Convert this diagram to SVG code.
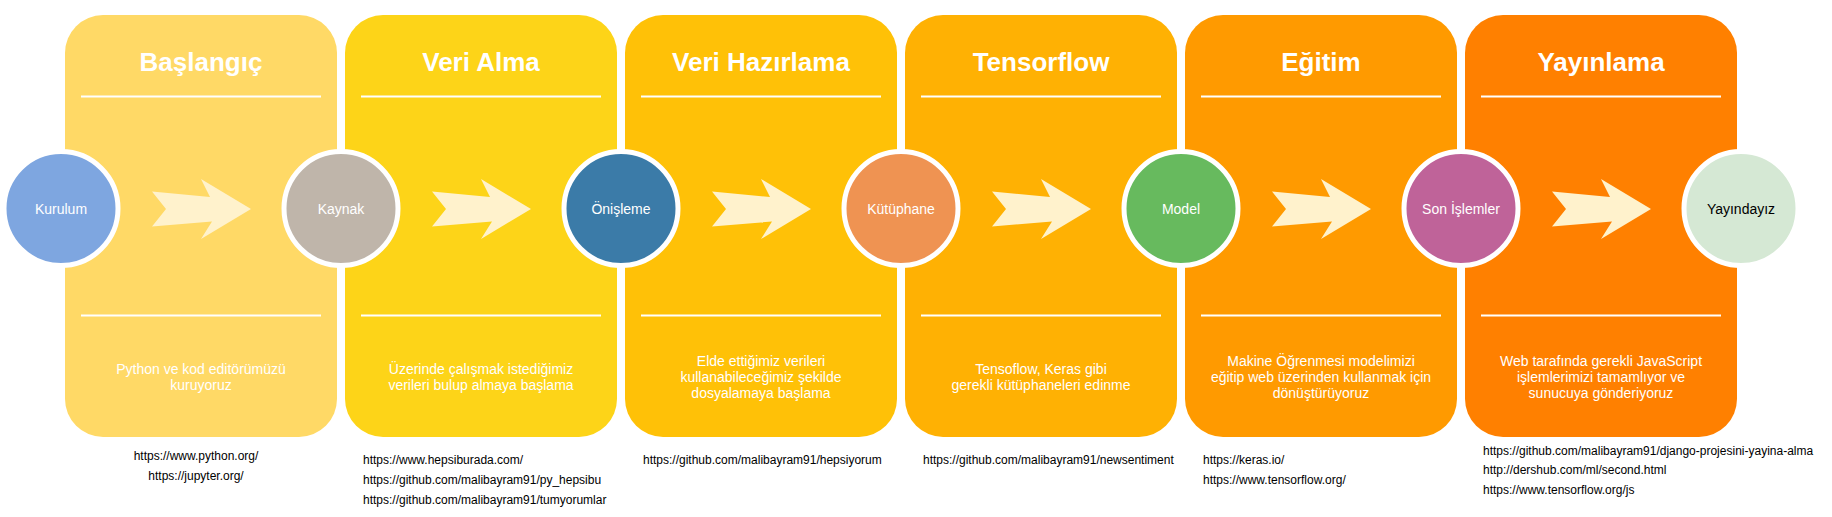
<svg xmlns="http://www.w3.org/2000/svg" width="1832" height="517" viewBox="0 0 1832 517">
<defs>
<style>
.box{stroke:none}
.title{font-family:"Liberation Sans",Arial,sans-serif;font-weight:bold;font-size:26px;fill:#fff;text-anchor:middle}
.sep{stroke:#fff;stroke-width:2}
.desc{font-family:"Liberation Sans",Arial,sans-serif;font-size:14px;fill:#fff;text-anchor:middle}
.url{font-family:"Liberation Sans",Arial,sans-serif;font-size:12px;fill:#000}
.circ{stroke:#fff;stroke-width:5}
.clabel{font-family:"Liberation Sans",Arial,sans-serif;font-size:14px;fill:#fff;text-anchor:middle}
.arrow{fill:#FFF2CC;stroke:none}
</style>
<path id="arr" d="M0,-17.5 L58,-12 L49,-30 L99,0 L49,30 L60,12.5 L0,17.5 L14,0 Z"/>
</defs>
<rect width="1832" height="517" fill="#fff"/>

<g id="stage-baslangic">
<rect class="box" x="65" y="15" width="272" height="422" rx="38" fill="#FFD966"/>
<text class="title" x="201" y="71">Başlangıç</text>
<line class="sep" x1="81" y1="96.5" x2="321" y2="96.5"/>
<line class="sep" x1="81" y1="315.5" x2="321" y2="315.5"/>
<text class="desc" x="201" y="374">Python ve kod editörümüzü</text>
<text class="desc" x="201" y="390">kuruyoruz</text>
<text class="url" x="196" y="460" text-anchor="middle">https://www.python.org/</text>
<text class="url" x="196" y="480" text-anchor="middle">https://jupyter.org/</text>
</g>

<g id="stage-veri-alma">
<rect class="box" x="345" y="15" width="272" height="422" rx="38" fill="#FDD418"/>
<text class="title" x="481" y="71">Veri Alma</text>
<line class="sep" x1="361" y1="96.5" x2="601" y2="96.5"/>
<line class="sep" x1="361" y1="315.5" x2="601" y2="315.5"/>
<text class="desc" x="481" y="374">Üzerinde çalışmak istediğimiz</text>
<text class="desc" x="481" y="390">verileri bulup almaya başlama</text>
<text class="url" x="363" y="464">https://www.hepsiburada.com/</text>
<text class="url" x="363" y="484">https://github.com/malibayram91/py_hepsibu</text>
<text class="url" x="363" y="504">https://github.com/malibayram91/tumyorumlar</text>
</g>

<g id="stage-veri-hazirlama">
<rect class="box" x="625" y="15" width="272" height="422" rx="38" fill="#FFC107"/>
<text class="title" x="761" y="71">Veri Hazırlama</text>
<line class="sep" x1="641" y1="96.5" x2="881" y2="96.5"/>
<line class="sep" x1="641" y1="315.5" x2="881" y2="315.5"/>
<text class="desc" x="761" y="366">Elde ettiğimiz verileri</text>
<text class="desc" x="761" y="382">kullanabileceğimiz şekilde</text>
<text class="desc" x="761" y="398">dosyalamaya başlama</text>
<text class="url" x="643" y="464">https://github.com/malibayram91/hepsiyorum</text>
</g>

<g id="stage-tensorflow">
<rect class="box" x="905" y="15" width="272" height="422" rx="38" fill="#FFB103"/>
<text class="title" x="1041" y="71">Tensorflow</text>
<line class="sep" x1="921" y1="96.5" x2="1161" y2="96.5"/>
<line class="sep" x1="921" y1="315.5" x2="1161" y2="315.5"/>
<text class="desc" x="1041" y="374">Tensoflow, Keras gibi</text>
<text class="desc" x="1041" y="390">gerekli kütüphaneleri edinme</text>
<text class="url" x="923" y="464">https://github.com/malibayram91/newsentiment</text>
</g>

<g id="stage-egitim">
<rect class="box" x="1185" y="15" width="272" height="422" rx="38" fill="#FF9A00"/>
<text class="title" x="1321" y="71">Eğitim</text>
<line class="sep" x1="1201" y1="96.5" x2="1441" y2="96.5"/>
<line class="sep" x1="1201" y1="315.5" x2="1441" y2="315.5"/>
<text class="desc" x="1321" y="366">Makine Öğrenmesi modelimizi</text>
<text class="desc" x="1321" y="382">eğitip web üzerinden kullanmak için</text>
<text class="desc" x="1321" y="398">dönüştürüyoruz</text>
<text class="url" x="1203" y="464">https://keras.io/</text>
<text class="url" x="1203" y="484">https://www.tensorflow.org/</text>
</g>

<g id="stage-yayinlama">
<rect class="box" x="1465" y="15" width="272" height="422" rx="38" fill="#FF8000"/>
<text class="title" x="1601" y="71">Yayınlama</text>
<line class="sep" x1="1481" y1="96.5" x2="1721" y2="96.5"/>
<line class="sep" x1="1481" y1="315.5" x2="1721" y2="315.5"/>
<text class="desc" x="1601" y="366">Web tarafında gerekli JavaScript</text>
<text class="desc" x="1601" y="382">işlemlerimizi tamamlıyor ve</text>
<text class="desc" x="1601" y="398">sunucuya gönderiyoruz</text>
<text class="url" x="1483" y="455">https://github.com/malibayram91/django-projesini-yayina-alma</text>
<text class="url" x="1483" y="474">http://dershub.com/ml/second.html</text>
<text class="url" x="1483" y="494">https://www.tensorflow.org/js</text>
</g>

<g id="connectors">
<use href="#arr" class="arrow" x="152" y="209"/>
<use href="#arr" class="arrow" x="432" y="209"/>
<use href="#arr" class="arrow" x="712" y="209"/>
<use href="#arr" class="arrow" x="992" y="209"/>
<use href="#arr" class="arrow" x="1272" y="209"/>
<use href="#arr" class="arrow" x="1552" y="209"/>
</g>

<g id="node-kurulum">
<circle class="circ" cx="61" cy="208.5" r="57" fill="#7EA6E0"/>
<text class="clabel" x="61" y="213.5">Kurulum</text>
</g>
<g id="node-kaynak">
<circle class="circ" cx="341" cy="208.5" r="57" fill="#BFB5AA"/>
<text class="clabel" x="341" y="213.5">Kaynak</text>
</g>
<g id="node-onisleme">
<circle class="circ" cx="621" cy="208.5" r="57" fill="#3B7BA8"/>
<text class="clabel" x="621" y="213.5">Önişleme</text>
</g>
<g id="node-kutuphane">
<circle class="circ" cx="901" cy="208.5" r="57" fill="#EF9352"/>
<text class="clabel" x="901" y="213.5">Kütüphane</text>
</g>
<g id="node-model">
<circle class="circ" cx="1181" cy="208.5" r="57" fill="#67BA5E"/>
<text class="clabel" x="1181" y="213.5">Model</text>
</g>
<g id="node-son-islemler">
<circle class="circ" cx="1461" cy="208.5" r="57" fill="#BF6399"/>
<text class="clabel" x="1461" y="213.5">Son İşlemler</text>
</g>
<g id="node-yayindayiz">
<circle class="circ" cx="1741" cy="208.5" r="57" fill="#D5E8D4"/>
<text class="clabel" x="1741" y="213.5" style="fill:#000">Yayındayız</text>
</g>
</svg>
